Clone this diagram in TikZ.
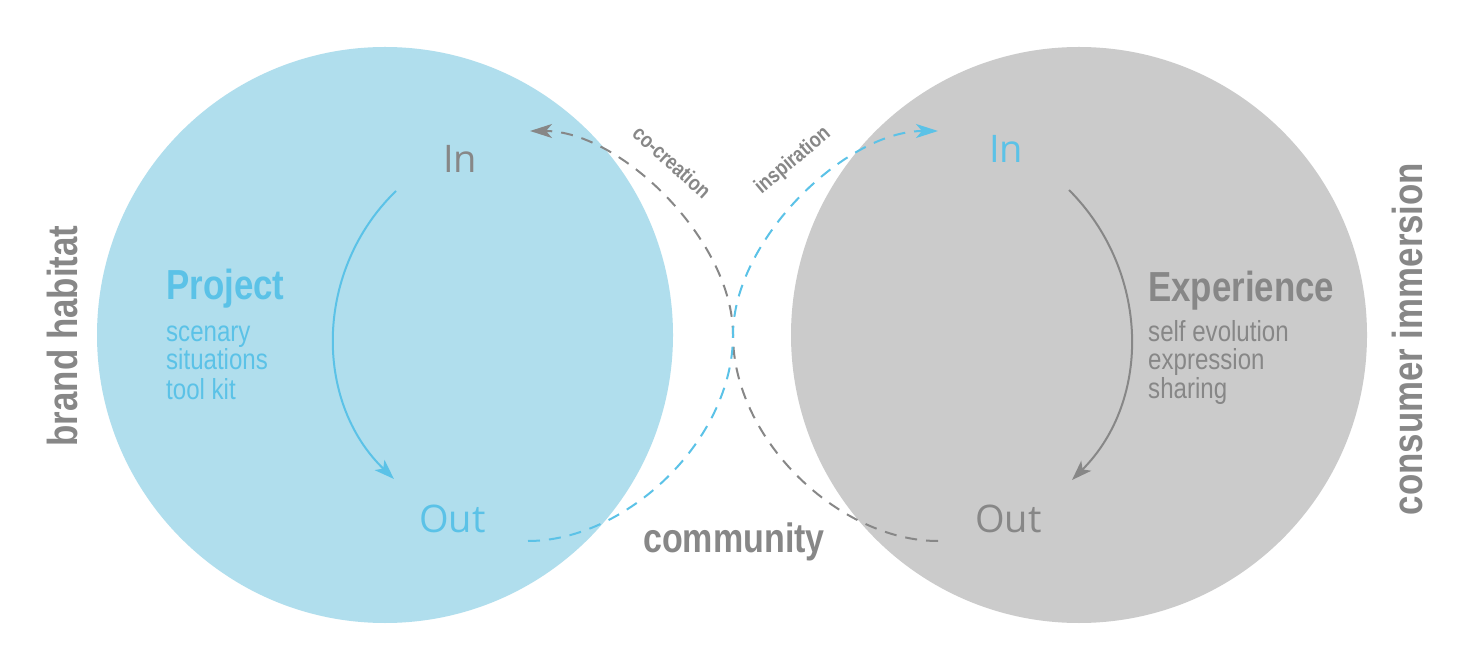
\documentclass[tikz,border=0pt]{standalone}
\usepackage{fontspec}
\setmainfont{Liberation Sans}
\newfontfamily\condfont[FakeStretch=0.83]{Liberation Sans}
\newfontfamily\flowfont{Open Sans}
\usepackage{xcolor}
\usetikzlibrary{arrows.meta, positioning}

\definecolor{hubblue}{HTML}{B0DEED}
\definecolor{hubgrey}{HTML}{CBCBCB}
\definecolor{inkblue}{HTML}{5BC2E7}
\definecolor{inkgrey}{HTML}{878787}

\begin{document}
\begin{tikzpicture}[x=1pt, y=1pt,
    sphere/.style={circle, minimum size=576pt, inner sep=0pt, draw=none},
    title/.style={anchor=base west, inner sep=0pt,
                  font=\condfont\bfseries\fontsize{42}{42}\selectfont},
    item/.style={anchor=base west, inner sep=0pt,
                 font=\condfont\fontsize{29}{29}\selectfont},
    flow/.style={anchor=base west, inner sep=0pt,
                 font=\flowfont\fontsize{38}{38}\selectfont},
    side/.style={anchor=base, inner sep=0pt, rotate=90, text=inkgrey,
                 font=\condfont\bfseries\fontsize{42}{42}\selectfont},
    tag/.style={inner sep=0pt, text=inkgrey,
                font=\condfont\bfseries\fontsize{21.5}{21.5}\selectfont},
    loopline/.style={-{Stealth[length=20pt, width=14pt, inset=5pt]}, line width=2pt},
    bridge/.style={-{Stealth[length=22pt, width=14pt, inset=6pt]}, line width=2pt,
                   dash pattern=on 12pt off 9pt}
]

    % ── Cadre ──
    \fill[white] (0,0) rectangle (1466,667);
    \useasboundingbox (0,0) rectangle (1466,667);

    % ── Les deux sphères ──
    \node[sphere, fill=hubblue] (brand) at (385,332) {};
    \node[sphere, fill=hubgrey] (consumer) at (1079,332) {};

    % ── Sphère gauche : projet ──
    \node[flow, text=inkgrey] (brandIn) at (443,494) {In};
    \node[flow, text=inkblue] (brandOut) at (419,135) {Out};
    \node[title, text=inkblue] (project) at (166,367) {Project};
    \node[item, text=inkblue] (scenary) at (166,325) {scenary};
    \node[item, text=inkblue] (situations) at (166,297) {situations};
    \node[item, text=inkblue] (toolkit) at (166,267) {tool kit};

    % ── Sphère droite : expérience ──
    \node[flow, text=inkblue] (consumerIn) at (989,504) {In};
    \node[flow, text=inkgrey] (consumerOut) at (975,135) {Out};
    \node[title, text=inkgrey] (experience) at (1148,365) {Experience};
    \node[item, text=inkgrey] (selfevo) at (1148,325) {self evolution};
    \node[item, text=inkgrey] (expression) at (1148,297) {expression};
    \node[item, text=inkgrey] (sharing) at (1148,268) {sharing};

    % ── Titres latéraux et centre ──
    \node[side] (habitat) at (77,331) {brand habitat};
    \node[side] (immersion) at (1422,328) {consumer immersion};
    \node[tag, anchor=base, font=\condfont\bfseries\fontsize{41}{41}\selectfont]
        (community) at (734,115) {community};
    \node[tag, rotate=-42] (cocreation) at (672,505) {co-creation};
    \node[tag, rotate=40] (inspiration) at (793,506) {inspiration};

    % ── Cycles internes ──
    \coordinate (lTop) at (396,476);
    \coordinate (lBot) at (394,188);
    \coordinate (rTop) at (1069,477);
    \coordinate (rBot) at (1072,187);
    \draw[loopline, draw=inkblue] (lTop) to[out=224, in=136] (lBot);
    \draw[loopline, draw=inkgrey] (rTop) to[out=-45, in=45] (rBot);

    % ── Échanges par la communauté ──
    \coordinate (gStart) at (938,126);
    \coordinate (bStart) at (528,126);
    \coordinate (mid) at (733,332);
    \coordinate (gEnd) at (530,536);
    \coordinate (bEnd) at (938,536);
    \draw[bridge, draw=inkgrey] (gStart) .. controls (840,126) and (733,227) .. (mid)
        .. controls (733,427) and (620,536) .. (gEnd);
    \draw[bridge, draw=inkblue] (bStart) .. controls (626,126) and (733,227) .. (mid)
        .. controls (733,427) and (846,536) .. (bEnd);

\end{tikzpicture}
\end{document}
